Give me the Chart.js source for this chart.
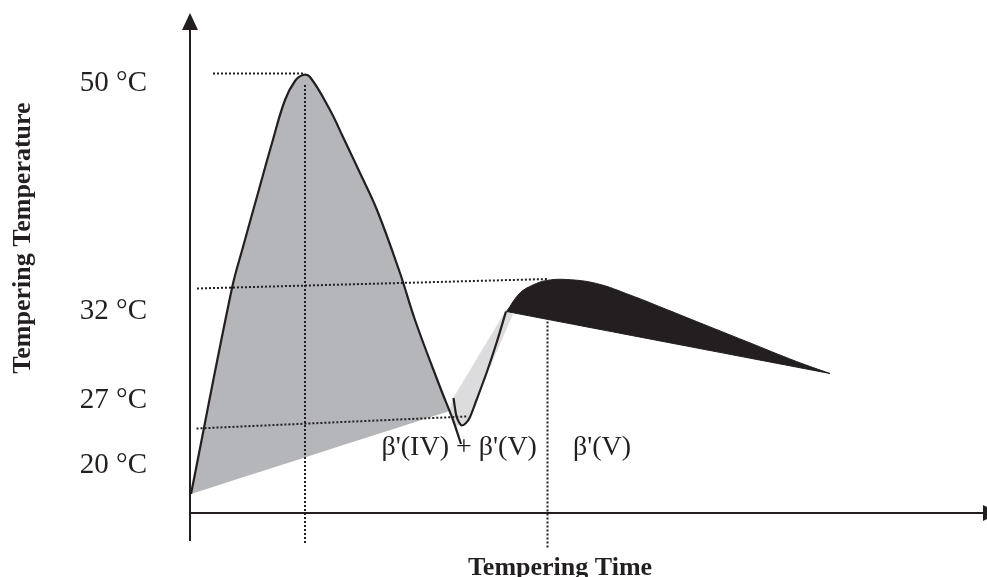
<!DOCTYPE html>
<html>
<head>
<meta charset="utf-8">
<script src="https://cdn.jsdelivr.net/npm/chart.js@4.4.1/dist/chart.umd.min.js"></script>
<style>
  html, body { margin: 0; padding: 0; background: #fff; }
  #grafico_tempera { display: block; }
</style>
</head>
<body>
<canvas id="grafico_tempera" width="987" height="577"></canvas>
<script>
// schematic diagram: time 0..159, level -8..100 (arbitrary units, not to scale)
const tempLevels = [86.0, 40.4, 22.6, 9.6];
const tempLabels = ['50 °C', '32 °C', '27 °C', '20 °C'];

// melt + cool curve (outline)
const coolTime  = [0.2, 8.4, 10.6, 13.6, 16.4, 19.0, 21.0, 22.6, 24.0, 28.0, 30.6, 34.0, 37.4, 42.0, 45.0, 50.0, 52.6, 54.2];
const coolLevel = [3.8, 45.0, 53.2, 64.0, 74.0, 82.6, 86.4, 87.6, 87.2, 80.6, 75.2, 68.0, 60.6, 48.0, 38.6, 25.2, 18.6, 13.8];

// dark grey area under the melt curve
const meltTime  = [0.2, 8.4, 10.6, 13.6, 16.4, 19.0, 21.0, 22.6, 24.0, 28.0, 30.6, 34.0, 37.4, 42.0, 45.0, 50.0, 51.9, 51.9, 0.2];
const meltLevel = [3.8, 45.0, 53.2, 64.0, 74.0, 82.6, 86.4, 87.6, 87.2, 80.6, 75.2, 68.0, 60.6, 48.0, 38.6, 25.2, 20.4, 20.4, 3.8];

// light grey wedge (mixed crystals)
const mixTime  = [52.4, 63.2, 64.6, 59.6, 55.2, 53.2, 51.8, 52.4];
const mixLevel = [22.6, 40.6, 39.8, 28.2, 18.0, 17.4, 20.0, 22.6];

// reheat curve
const reheatTime  = [52.7, 53.3, 53.9, 54.3, 55.2, 56.0, 57.3, 59.3, 61.3, 63.2];
const reheatLevel = [23.0, 19.3, 18.0, 17.5, 18.0, 19.2, 22.6, 28.0, 34.0, 40.3];

// black area (beta V)
const holdTime  = [63.3, 66.0, 68.6, 71.3, 75.3, 81.3, 88.0, 94.6, 101.3, 111.3, 121.3, 128.0, 128.0, 63.3];
const holdLevel = [40.3, 44.0, 45.6, 46.5, 46.7, 45.9, 43.6, 41.0, 38.3, 34.3, 30.3, 27.9, 27.9, 40.3];

// dotted guide lines
const guia50Time = [4.6, 22.6],   guia50Level = [87.9, 87.9];
const picoTime   = [23.0, 23.0],  picoLevel   = [85.6, -6.2];
const guia32Time = [1.4, 71.6],   guia32Level = [44.9, 46.8];
const guia27Time = [1.3, 55.3],   guia27Level = [16.9, 19.3];
const fimTime    = [71.5, 71.5],  fimLevel    = [38.3, -7.2];

// phase labels
const faseTextos = ["β'(IV) + β'(V)", "β'(V)"];
const faseTime   = [38.3, 76.6];
const faseLevel  = [11.6, 11.6];

const COR = '#231f20';

function pontos(xs, ys) {
    return xs.map((x, i) => ({ x: x, y: ys[i] }));
}

function pontilhado(xs, ys) {
    return {
        data: pontos(xs, ys),
        showLine: true,
        borderColor: COR,
        borderWidth: 2,
        borderDash: [2, 2],
        pointRadius: 0,
        fill: false,
        order: 4,
    };
}

const decoracao = {
    id: 'decoracao',
    afterDraw(chart) {
        const ctx = chart.ctx;
        const xs = chart.scales.x;
        const ys = chart.scales.y;
        const x0 = xs.getPixelForValue(0);
        const y0 = ys.getPixelForValue(0);
        ctx.save();
        ctx.strokeStyle = COR;
        ctx.fillStyle = COR;
        ctx.lineWidth = 2;

        // y axis + arrow
        ctx.beginPath();
        ctx.moveTo(x0, ys.getPixelForValue(-5.6));
        ctx.lineTo(x0, ys.getPixelForValue(96.8));
        ctx.stroke();
        const topo = ys.getPixelForValue(100);
        ctx.beginPath();
        ctx.moveTo(x0, topo);
        ctx.lineTo(x0 - 8, topo + 17);
        ctx.lineTo(x0 + 8, topo + 17);
        ctx.closePath();
        ctx.fill();

        // x axis + arrow (tip runs off the canvas)
        const fim = xs.getPixelForValue(158.6);
        ctx.beginPath();
        ctx.moveTo(x0, y0);
        ctx.lineTo(fim, y0);
        ctx.stroke();
        ctx.beginPath();
        ctx.moveTo(fim + 17, y0);
        ctx.lineTo(fim, y0 - 8);
        ctx.lineTo(fim, y0 + 8);
        ctx.closePath();
        ctx.fill();

        // phase labels
        ctx.font = '28px "Liberation Serif"';
        ctx.textAlign = 'left';
        ctx.textBaseline = 'alphabetic';
        faseTextos.forEach((t, i) => {
            ctx.fillText(t, xs.getPixelForValue(faseTime[i]), ys.getPixelForValue(faseLevel[i]));
        });

        // axis titles
        ctx.font = 'bold 26px "Liberation Serif"';
        ctx.textAlign = 'center';
        ctx.fillText('Tempering Time', xs.getPixelForValue(74), 575);
        ctx.translate(29.5, 238);
        ctx.rotate(-Math.PI / 2);
        ctx.fillText('Tempering Temperature', 0, 0);
        ctx.restore();
    }
};

const canvas_tempera = document.getElementById('grafico_tempera');
const ctx = canvas_tempera.getContext('2d');

new Chart(ctx, {
    type: 'scatter',
    data: {
        datasets: [
            {
                data: pontos(meltTime, meltLevel),
                showLine: true,
                fill: 'shape',
                backgroundColor: '#b5b6ba',
                borderColor: 'rgba(0,0,0,0)',
                borderWidth: 0,
                tension: 0.4,
                pointRadius: 0,
                order: 6,
            },
            {
                data: pontos(mixTime, mixLevel),
                showLine: true,
                fill: 'shape',
                backgroundColor: '#dcdcde',
                borderColor: 'rgba(0,0,0,0)',
                borderWidth: 0,
                tension: 0,
                pointRadius: 0,
                order: 5,
            },
            pontilhado(guia50Time, guia50Level),
            pontilhado(picoTime, picoLevel),
            pontilhado(guia32Time, guia32Level),
            pontilhado(guia27Time, guia27Level),
            pontilhado(fimTime, fimLevel),
            {
                data: pontos(coolTime, coolLevel),
                showLine: true,
                fill: false,
                borderColor: COR,
                borderWidth: 2.2,
                tension: 0.4,
                pointRadius: 0,
                order: 2,
            },
            {
                data: pontos(reheatTime, reheatLevel),
                showLine: true,
                fill: false,
                borderColor: COR,
                borderWidth: 2.2,
                tension: 0.3,
                pointRadius: 0,
                order: 2,
            },
            {
                data: pontos(holdTime, holdLevel),
                showLine: true,
                fill: 'shape',
                backgroundColor: COR,
                borderColor: COR,
                borderWidth: 1,
                tension: 0.4,
                pointRadius: 0,
                order: 1,
            },
        ],
    },
    options: {
        responsive: false,
        animation: false,
        layout: {
            padding: { top: 13, right: 2, bottom: 24, left: 0 },
        },
        plugins: {
            legend: { display: false },
            tooltip: { enabled: false },
        },
        scales: {
            x: {
                type: 'linear',
                min: 0,
                max: 159,
                display: false,
            },
            y: {
                type: 'linear',
                min: -8,
                max: 100,
                grid: { display: false, drawTicks: false },
                border: { display: false },
                afterBuildTicks: (scale) => {
                    scale.ticks = tempLevels.map(v => ({ value: v }));
                },
                afterFit: (scale) => {
                    scale.width = 190;
                    scale.paddingTop = 0;
                    scale.paddingBottom = 0;
                },
                ticks: {
                    autoSkip: false,
                    padding: 43,
                    color: COR,
                    font: { family: 'Liberation Serif', size: 29 },
                    callback: (value) => {
                        const i = tempLevels.indexOf(value);
                        return i >= 0 ? tempLabels[i] : '';
                    },
                },
            },
        },
    },
    plugins: [decoracao],
});
</script>
</body>
</html>
